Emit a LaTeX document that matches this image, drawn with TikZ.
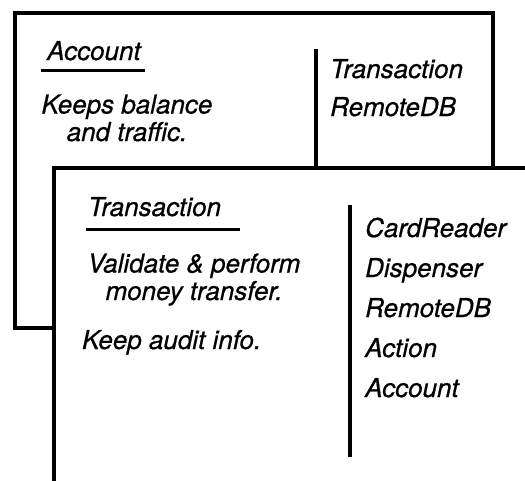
\documentclass[tikz,border=0pt]{standalone}
\usepackage{fontspec}
\setmainfont[ItalicFeatures={FakeBold=0.7}]{TeX Gyre Heros}
\begin{document}
\begin{tikzpicture}[x=1pt,y=-1pt,
  card/.style={line width=3.4pt, line cap=rect},
  rule/.style={line width=3.4pt},
  uline/.style={line width=3pt},
  txt/.style={inner sep=0pt, anchor=base west, font=\fontsize{26}{27.5}\selectfont\itshape},
  ctxt/.style={inner sep=0pt, anchor=base, align=center, font=\fontsize{26}{27.5}\selectfont\itshape}]
\useasboundingbox (0,0) rectangle (525,480);
\clip (0,0) rectangle (525,480);

% back card: Account
\draw[card] (15,13) rectangle (493,328);
\node[txt] (accname) at (47,60) {Account};
\draw[uline] (41,70) -- (145,70);
% anchor "base" sits on the last line of a multi-line node
\node[ctxt] (accresp) at (127,141) {Keeps balance\\and traffic.};
\draw[rule] (316,49) -- (316,168);
\node[txt] (acccol1) at (330,78) {Transaction};
\node[txt] (acccol2) at (330,116) {RemoteDB};

% front card: Transaction
\fill[white] (54,168) rectangle (530,485);
\draw[card] (530,168) -- (54,168) -- (54,485);
\node[txt] (trname) at (88,216) {Transaction};
\draw[uline] (86,229) -- (240,229);
\node[ctxt] (trresp1) at (194,300) {Validate \& perform\\money transfer.};
\node[txt] (trresp2) at (82,349) {Keep audit info.};
\draw[rule] (350,205) -- (350,457);
\node[txt] (trcol1) at (365,237) {CardReader};
\node[txt] (trcol2) at (365,277) {Dispenser};
\node[txt] (trcol3) at (365,317) {RemoteDB};
\node[txt] (trcol4) at (365,357) {Action};
\node[txt] (trcol5) at (365,397) {Account};
\end{tikzpicture}
\end{document}
